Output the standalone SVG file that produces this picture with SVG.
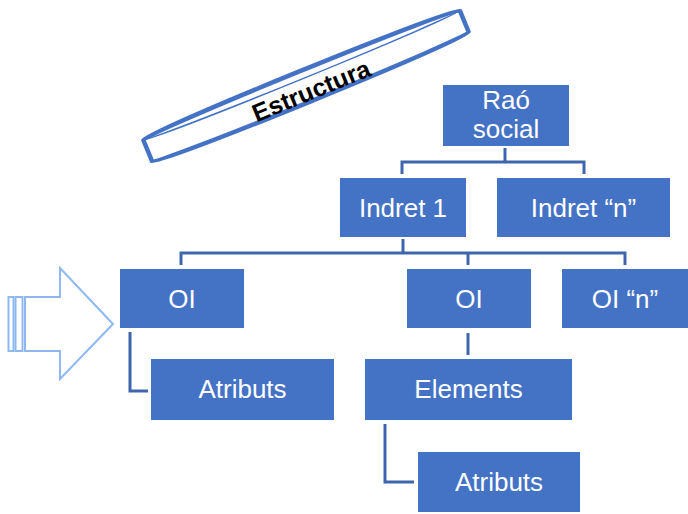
<svg xmlns="http://www.w3.org/2000/svg" width="688" height="514" viewBox="0 0 688 514">
<style>
.box{fill:#4472C4;}
.lbl{fill:#FFFFFF;font-family:"Liberation Sans",Arial,sans-serif;font-size:26px;text-anchor:middle;}
.con{fill:none;stroke:#3F66AD;stroke-width:3;}
</style>
<rect width="688" height="514" fill="#FFFFFF"/>
<g id="banner" transform="translate(306,86) rotate(-22.2)">
<path d="M-171,-12 A171,4 0 0 1 171,-12 L171,12 A171,4 0 0 1 -171,12 Z" fill="#FFFFFF" stroke="#4472C4" stroke-width="4.5"/>
<path d="M-171,-12 A171,4 0 0 0 171,-12" fill="none" stroke="#4472C4" stroke-width="1.5"/>
<text x="3" y="15" font-family="'Liberation Sans',Arial,sans-serif" font-size="25" font-weight="bold" fill="#000000" text-anchor="middle">Estructura</text>
</g>
<g id="arrow" fill="#FFFFFF" stroke="#8DB8F2" stroke-width="2">
<rect x="8.5" y="297" width="5" height="54"/>
<rect x="15.5" y="297" width="7" height="54"/>
<path d="M25,297 L60,297 L60,268 L113,324 L60,379 L60,351 L25,351 Z"/>
</g>
<g id="connectors">
<path class="con" d="M505,148 V162 M402,174 V162 H584 V174"/>
<path class="con" d="M403,239 V253 M181,265 V253 H625 V265 M468,253 V265"/>
<path class="con" d="M130,332 V391 H148"/>
<path class="con" d="M468,333 V355"/>
<path class="con" d="M385,424 V482 H414"/>
</g>
<g id="raosocial"><rect class="box" x="443" y="85" width="126" height="61"/><text class="lbl" x="506" y="109" font-size="25">Raó</text><text class="lbl" x="506" y="138" font-size="25">social</text></g>
<g id="indret1"><rect class="box" x="340" y="178" width="126" height="59"/><text class="lbl" x="403" y="217">Indret 1</text></g>
<g id="indretn"><rect class="box" x="497" y="178" width="173" height="59"/><text class="lbl" x="583.5" y="217">Indret “n”</text></g>
<g id="oi1"><rect class="box" x="120" y="269" width="124" height="59"/><text class="lbl" x="182" y="308">OI</text></g>
<g id="oi2"><rect class="box" x="407" y="269" width="124" height="59"/><text class="lbl" x="469" y="308">OI</text></g>
<g id="oin"><rect class="box" x="562" y="269" width="126" height="59"/><text class="lbl" x="625" y="308">OI “n”</text></g>
<g id="atributs1"><rect class="box" x="151" y="359" width="183" height="61"/><text class="lbl" x="242.5" y="398">Atributs</text></g>
<g id="elements"><rect class="box" x="365" y="359" width="207" height="61"/><text class="lbl" x="468.5" y="398">Elements</text></g>
<g id="atributs2"><rect class="box" x="418" y="452" width="162" height="60"/><text class="lbl" x="499" y="491">Atributs</text></g>
</svg>
